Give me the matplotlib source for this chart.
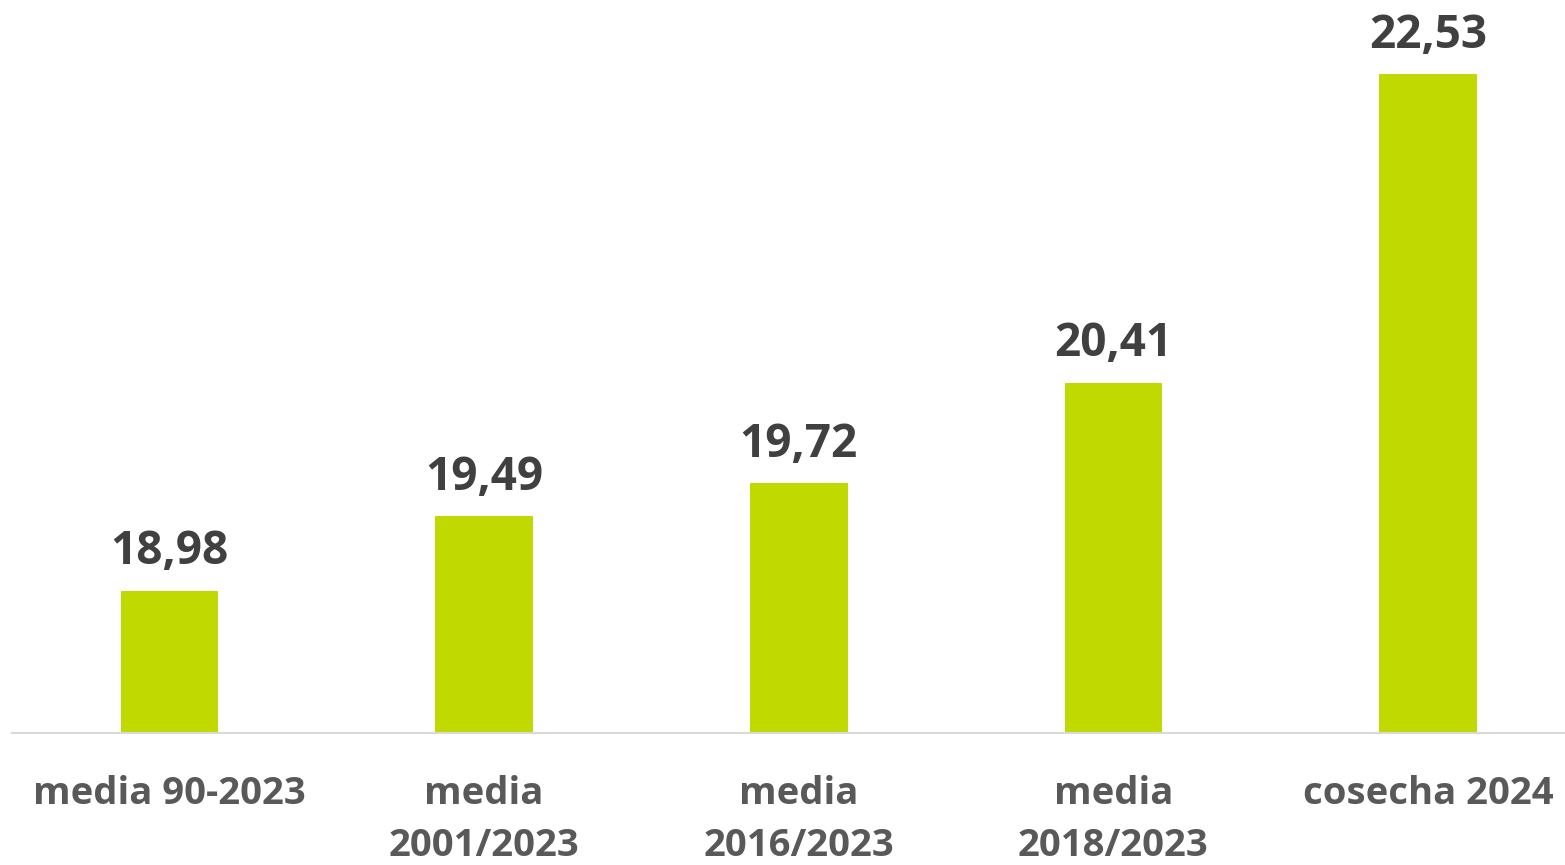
import matplotlib.pyplot as plt

categories = ['media 90-2023', 'media\n2001/2023', 'media\n2016/2023', 'media\n2018/2023', 'cosecha 2024']
values = [18.98, 19.49, 19.72, 20.41, 22.53]
value_labels = ['18,98', '19,49', '19,72', '20,41', '22,53']

plt.rcParams['font.family'] = ['Open Sans', 'DejaVu Sans']

fig = plt.figure(figsize=(15.65, 8.65), dpi=100)
ax = fig.add_axes([12 / 1565, 1 - 733 / 865, 1 - 12 / 1565, (733 - 6) / 865])

x = range(len(categories))
bars = ax.bar(x, values, width=0.31, bottom=0, color='#C0D900', zorder=2)
ax.set_ylim(18, 23)
ax.set_xlim(-0.5, 4.435)

for xi, v, lab in zip(x, values, value_labels):
    ax.annotate(lab, (xi, v), xytext=(0, 11), textcoords='offset points',
                ha='center', va='bottom', fontsize=33, fontweight='bold', color='#404040')

ax.set_xticks(list(x))
ax.set_xticklabels(categories, fontsize=27.5, fontweight='bold', color='#595959', linespacing=1.5)
ax.tick_params(axis='x', length=0, pad=30)
ax.set_yticks([])

for s in ['top', 'right', 'left']:
    ax.spines[s].set_visible(False)
ax.spines['bottom'].set_color('#D9D9D9')
ax.spines['bottom'].set_linewidth(1.5)

fig.savefig('out.png', dpi=100)
